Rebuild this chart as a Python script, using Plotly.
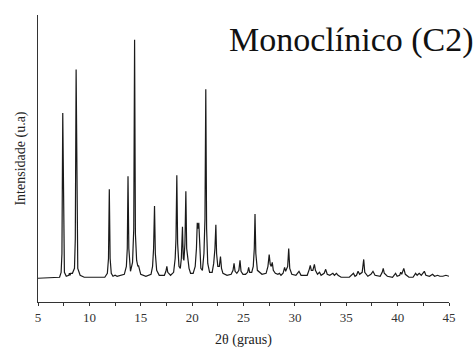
import plotly.graph_objects as go

# Diffractogram vertices: 2-theta (degrees) and intensity (a.u.)
two_theta = [5.0, 7.1, 7.25, 7.33, 7.41, 7.49, 7.57, 7.75, 8.0, 8.06, 8.12, 8.18, 8.35,
             8.55, 8.63, 8.71, 8.79, 8.87, 9.1, 9.5, 11.5, 11.75, 11.86, 11.94, 12.02, 12.13,
             12.3, 12.5, 12.7, 13.4, 13.6, 13.69, 13.76, 13.84, 14.0, 14.2, 14.32, 14.4,
             14.48, 14.6, 14.72, 14.78, 14.85, 15.0, 15.5, 16.0, 16.15, 16.25, 16.34, 16.42,
             16.55, 16.8, 17.3, 17.45, 17.54, 17.63, 17.9, 18.2, 18.35, 18.43, 18.51, 18.59,
             18.72, 18.85, 18.95, 19.06, 19.14, 19.2, 19.3, 19.39, 19.47, 19.55, 19.6, 19.7,
             19.85, 20.1, 20.3, 20.42, 20.5, 20.57, 20.65, 20.74, 20.85, 21.0, 21.15, 21.25,
             21.33, 21.41, 21.52, 21.7, 21.95, 22.1, 22.22, 22.31, 22.38, 22.5, 22.65, 22.76,
             22.86, 23.0, 23.4, 23.8, 23.98, 24.08, 24.18, 24.35, 24.55, 24.66, 24.76, 24.95,
             25.2, 25.4, 25.5, 25.6, 25.8, 25.95, 26.05, 26.12, 26.2, 26.35, 26.8, 27.2,
             27.38, 27.5, 27.6, 27.7, 27.8, 27.9, 28.1, 28.35, 28.5, 28.65, 28.85, 29.0,
             29.1, 29.3, 29.4, 29.5, 29.7, 30.1, 30.4, 30.6, 31.2, 31.4, 31.5, 31.6, 31.75,
             31.9, 32.0, 32.2, 32.4, 32.55, 32.85, 33.0, 33.15, 33.4, 33.7, 33.85, 34.05,
             34.2, 34.5, 35.3, 35.55, 35.7, 35.85, 36.0, 36.15, 36.3, 36.55, 36.7, 36.8,
             37.1, 37.4, 37.6, 37.8, 38.3, 38.5, 38.6, 38.7, 39.0, 39.5, 39.8, 39.95, 40.2,
             40.3, 40.4, 40.6, 40.75, 41.1, 41.5, 41.75, 41.9, 42.1, 42.3, 42.6, 42.75,
             43.1, 43.4, 43.6, 43.9, 44.1, 44.4, 44.7, 45.0]
intensity = [0, 1, 6, 25, 167, 25, 6, 2, 3, 5, 3, 5, 5,
             10, 40, 211, 40, 10, 3, 1, 1, 5, 20, 90, 20, 5,
             2, 3, 2, 4, 12, 30, 103, 30, 7, 16, 50, 241,
             45, 18, 12, 13, 10, 4, 2, 4, 12, 30, 73, 25,
             8, 3, 3, 7, 12, 6, 3, 6, 20, 40, 104, 35,
             12, 10, 20, 52, 20, 18, 35, 88, 30, 21, 20, 10,
             5, 5, 12, 30, 56, 50, 56, 25, 10, 8, 25, 60,
             191, 50, 15, 6, 6, 15, 30, 54, 25, 12, 12, 22,
             10, 5, 3, 4, 8, 15, 7, 5, 8, 18, 7, 4,
             4, 6, 11, 6, 6, 12, 30, 65, 25, 8, 4, 5,
             12, 24, 14, 12, 16, 8, 5, 4, 5, 3, 5, 11,
             7, 12, 30, 10, 4, 3, 7, 3, 3, 9, 13, 8, 8,
             14, 8, 4, 6, 3, 5, 9, 4, 3, 5, 3, 5,
             3, 1, 1, 3, 5, 2, 3, 7, 4, 6, 19, 6,
             2, 4, 7, 3, 2, 6, 10, 5, 2, 1, 5, 2, 3,
             6, 4, 10, 4, 1, 1, 5, 3, 5, 3, 7, 3,
             2, 4, 2, 3, 2, 2, 3, 2]

x_ticks = [5, 10, 15, 20, 25, 30, 35, 40, 45]
label_text = "Monoclínico (C2)"

SERIF = "Times New Roman, DejaVu Serif, serif"

fig = go.Figure()
fig.add_trace(go.Scatter(x=two_theta, y=intensity, mode="lines",
                         line=dict(color="#1a1a1a", width=1.2), showlegend=False))

fig.update_layout(
    width=476, height=356,
    margin=dict(l=38, r=27, t=15, b=51),
    paper_bgcolor="white", plot_bgcolor="white",
    font=dict(family=SERIF, color="#222222"),
    xaxis=dict(range=[5, 45], tickvals=x_ticks, ticktext=[str(v) for v in x_ticks],
               showline=True, linecolor="#333333", linewidth=1, mirror=False,
               ticks="outside", ticklen=3, tickcolor="#333333", tickwidth=1,
               minor=dict(dtick=2.5, tick0=5, ticks="outside", ticklen=3,
                          tickcolor="#333333", tickwidth=1),
               showgrid=False, zeroline=False,
               tickfont=dict(family=SERIF, size=13, color="#333333"),
               title=dict(text="2θ (graus)", font=dict(family=SERIF, size=14, color="#222222"),
                          standoff=10)),
    yaxis=dict(range=[-24, 266], showline=True, linecolor="#333333", linewidth=1,
               showticklabels=False, ticks="", showgrid=False, zeroline=False,
               title=dict(text="Intensidade (u.a)", font=dict(family=SERIF, size=14, color="#222222"),
                          standoff=8)),
    annotations=[dict(text=label_text, xref="paper", yref="paper", x=1.065, y=0.912,
                      xanchor="right", yanchor="middle", showarrow=False,
                      font=dict(family=SERIF, size=34, color="#111111"))],
)

fig.write_html("out.html")
